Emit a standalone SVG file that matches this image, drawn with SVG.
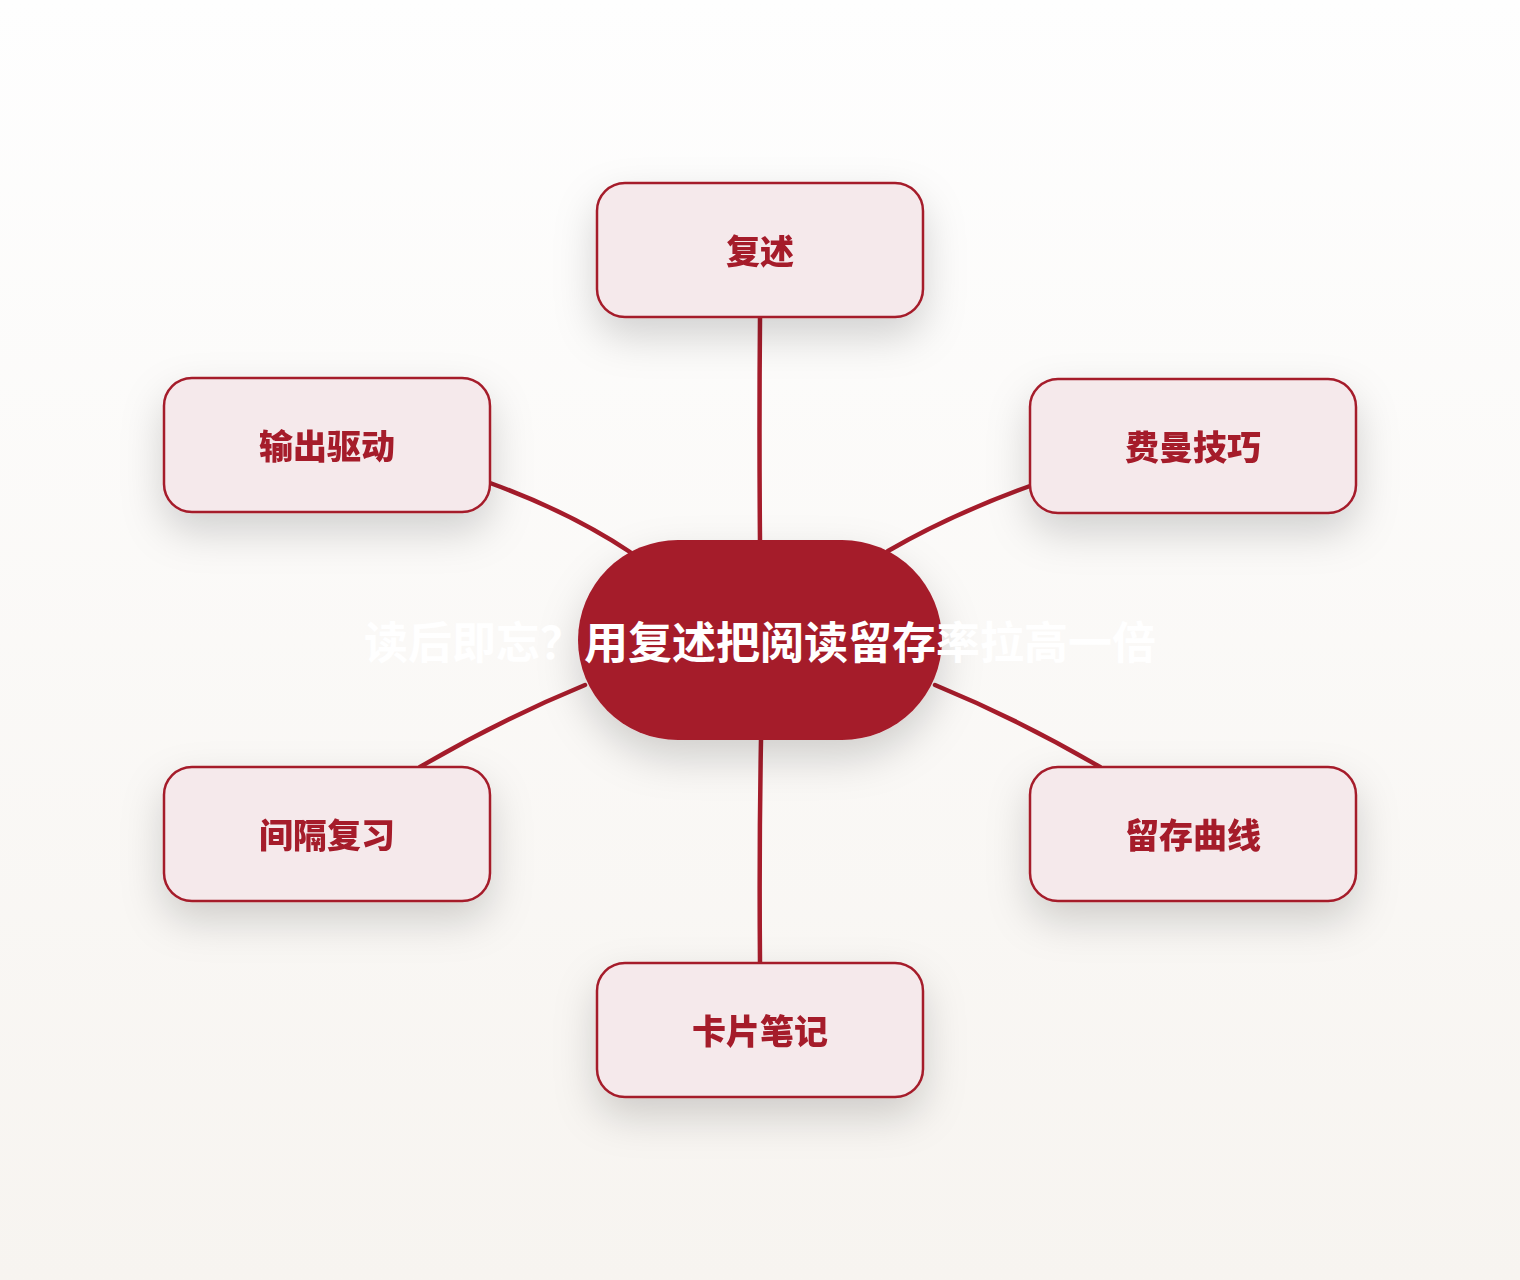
<svg xmlns="http://www.w3.org/2000/svg" width="1520" height="1280" viewBox="0 0 1520 1280">
<defs>
<linearGradient id="bg" x1="0" y1="0" x2="0" y2="1">
<stop offset="0" stop-color="#fefefe"/>
<stop offset="1" stop-color="#f7f4f0"/>
</linearGradient>
<filter id="sh" x="-40%" y="-40%" width="180%" height="200%">
<feDropShadow dx="0" dy="18" stdDeviation="20" flood-color="#000" flood-opacity="0.17"/>
</filter>
<style>
.node rect{fill:#f5e9eb;stroke:#a51c2b;stroke-width:2.5}
.node text{font-family:"Noto Sans CJK SC","Noto Sans",sans-serif;font-weight:900;font-size:34px;fill:#a51c2b;text-anchor:middle}
.edge{fill:none;stroke:#a51c2b;stroke-width:4.5;stroke-linecap:round}
.center text{font-family:"Noto Sans CJK SC","Noto Sans",sans-serif;font-weight:700;font-size:44px;fill:#ffffff;text-anchor:middle}
</style>
</defs>
<rect width="1520" height="1280" fill="url(#bg)"/>
<g id="connectors">
<path class="edge" d="M760 318 Q759 430 760 542"/>
<path class="edge" d="M490 483 Q570 512 630 552"/>
<path class="edge" d="M1030 486 Q950 515 888 551"/>
<path class="edge" d="M585 685 Q500 720 420 767"/>
<path class="edge" d="M935 685 Q1020 720 1100 767"/>
<path class="edge" d="M761 740 Q759 850 760 963"/>
</g>
<g id="center" class="center">
<rect x="578" y="540" width="364" height="200" rx="100" fill="#a51b2b" filter="url(#sh)"/>
<text x="760" y="659">读后即忘？用复述把阅读留存率拉高一倍</text>
</g>
<g id="n-fushu" class="node" filter="url(#sh)">
<rect x="597" y="183" width="326" height="134" rx="28"/>
<text x="760" y="264">复述</text>
</g>
<g id="n-shuchu" class="node" filter="url(#sh)">
<rect x="164" y="378" width="326" height="134" rx="28"/>
<text x="327" y="459">输出驱动</text>
</g>
<g id="n-feiman" class="node" filter="url(#sh)">
<rect x="1030" y="379" width="326" height="134" rx="28"/>
<text x="1193" y="460">费曼技巧</text>
</g>
<g id="n-jiange" class="node" filter="url(#sh)">
<rect x="164" y="767" width="326" height="134" rx="28"/>
<text x="327" y="848">间隔复习</text>
</g>
<g id="n-liucun" class="node" filter="url(#sh)">
<rect x="1030" y="767" width="326" height="134" rx="28"/>
<text x="1193" y="848">留存曲线</text>
</g>
<g id="n-kapian" class="node" filter="url(#sh)">
<rect x="597" y="963" width="326" height="134" rx="28"/>
<text x="760" y="1044">卡片笔记</text>
</g>
</svg>
